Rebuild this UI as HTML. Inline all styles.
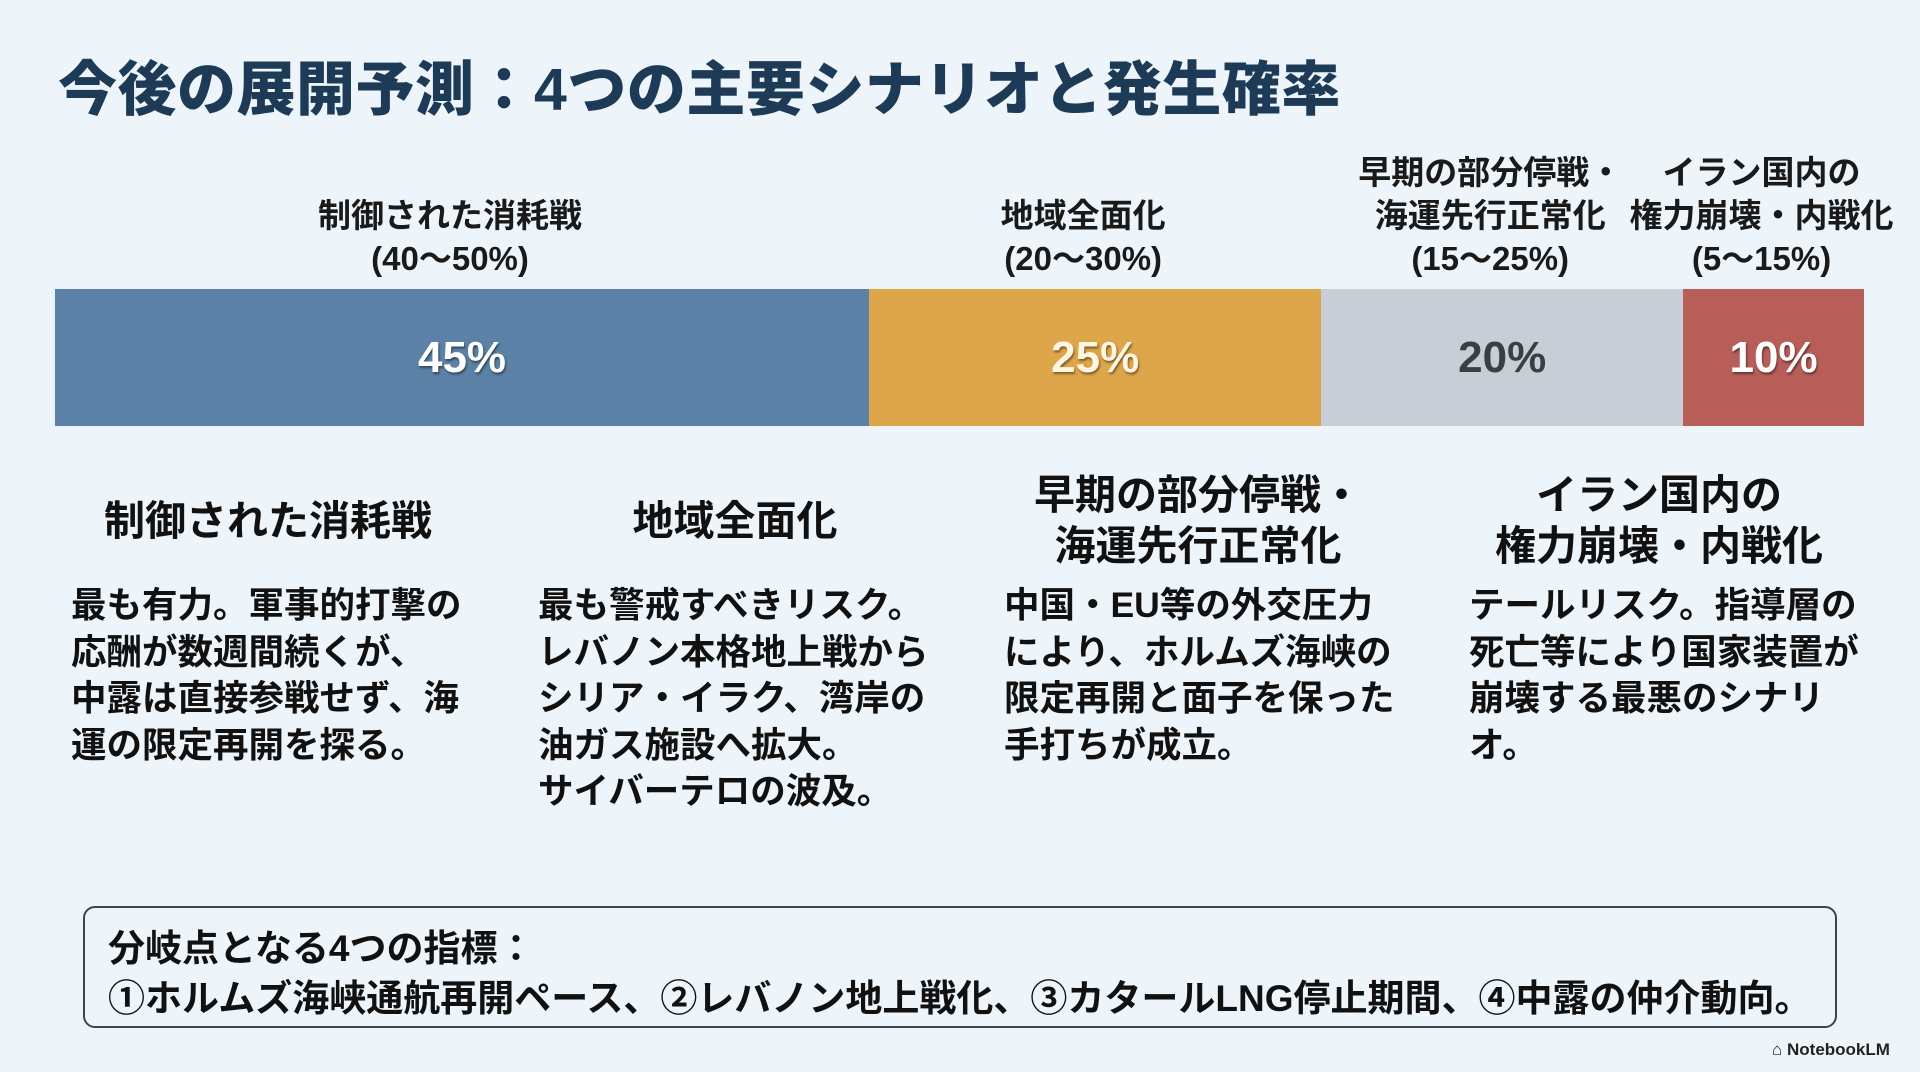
<!DOCTYPE html>
<html><head><meta charset="utf-8">
<style>
html,body{margin:0;padding:0}
body{width:1920px;height:1072px;background:#eef5fa;position:relative;overflow:hidden;font-family:"Liberation Sans","Noto Sans CJK JP",sans-serif;color:#111;font-weight:700}
.abs{position:absolute}
#title{left:58px;top:42px;font-size:59px;color:#1d3a56;font-weight:900;white-space:nowrap;letter-spacing:0.5px}
.toplabel{position:absolute;bottom:0;transform:translateX(-50%);text-align:center;font-size:33px;line-height:43px;white-space:nowrap;color:#1a1a1a}
.seg{position:absolute;top:289px;height:137px;display:flex;align-items:center;justify-content:center;font-size:44px;font-family:"Liberation Sans","Noto Sans CJK JP",sans-serif}
.head{position:absolute;width:420px;text-align:center;font-size:41px;line-height:51px;transform:translateX(-50%)}
.body{position:absolute;top:582px;font-size:35.5px;line-height:46.5px;width:420px;white-space:nowrap}
#box{left:83px;top:906px;width:1754px;height:122px;border:2px solid #3a4550;border-radius:12px;box-sizing:border-box}
.boxline{position:absolute;left:108px;font-size:37px;white-space:nowrap}
</style></head><body>
<div id="title" class="abs">今後の展開予測：4つの主要シナリオと発生確率</div>
<div id="labels" style="position:absolute;left:0;top:0;width:1920px;height:280px"></div>
<div id="bar"></div>

<div class="head" style="left:268px;top:496px">制御された消耗戦</div>
<div class="head" style="left:735px;top:496px">地域全面化</div>
<div class="head" style="left:1198px;top:470px">早期の部分停戦・<br>海運先行正常化</div>
<div class="head" style="left:1659px;top:470px">イラン国内の<br>権力崩壊・内戦化</div>

<div class="body" style="left:71px">最も有力。軍事的打撃の<br>応酬が数週間続くが、<br>中露は直接参戦せず、海<br>運の限定再開を探る。</div>
<div class="body" style="left:538px">最も警戒すべきリスク。<br>レバノン本格地上戦から<br>シリア・イラク、湾岸の<br>油ガス施設へ拡大。<br>サイバーテロの波及。</div>
<div class="body" style="left:1004px">中国・EU等の外交圧力<br>により、ホルムズ海峡の<br>限定再開と面子を保った<br>手打ちが成立。</div>
<div class="body" style="left:1469px">テールリスク。指導層の<br>死亡等により国家装置が<br>崩壊する最悪のシナリ<br>オ。</div>

<div id="box" class="abs"></div>
<div class="boxline" style="top:918px">分岐点となる4つの指標：</div>
<div class="boxline" style="top:968px">①ホルムズ海峡通航再開ペース、②レバノン地上戦化、③カタールLNG停止期間、④中露の仲介動向。</div>
<div class="abs" style="left:1772px;top:1040px;font-size:17px;color:#222">⌂ NotebookLM</div>

<script>
const categories = ["制御された消耗戦", "地域全面化", "早期の部分停戦・<br>海運先行正常化", "イラン国内の<br>権力崩壊・内戦化"];
const ranges = ["(40～50%)", "(20～30%)", "(15～25%)", "(5～15%)"];
const values = [45, 25, 20, 10];
const colors = ["#5b82a6", "#dea64a", "#c9ced6", "#b85e59"];
const textColors = ["#ffffff", "#fff6e0", "#3a3f46", "#ffffff"];

const X0 = 55, X1 = 1864;
const total = values.reduce((a, b) => a + b, 0);
function xScale(v) { return X0 + (X1 - X0) * v / total; }

const bar = document.getElementById('bar');
const labels = document.getElementById('labels');
let cum = 0;
values.forEach((v, i) => {
  const x = xScale(cum), w = xScale(cum + v) - x;
  const seg = document.createElement('div');
  seg.className = 'seg';
  
  
  seg.style.left = x + 'px';
  seg.style.width = w + 'px';
  seg.style.background = colors[i];
  seg.style.color = textColors[i];
  if (i !== 2) seg.style.textShadow = '1px 2px 2px rgba(0,0,0,0.45)';
  seg.textContent = v + '%';
  bar.appendChild(seg);

  const lab = document.createElement('div');
  lab.className = 'toplabel';
  
  
  lab.style.left = (x + w / 2 - 12) + 'px';
  lab.innerHTML = categories[i] + '<br>' + ranges[i];
  labels.appendChild(lab);
  cum += v;
});
</script>
</body></html>
